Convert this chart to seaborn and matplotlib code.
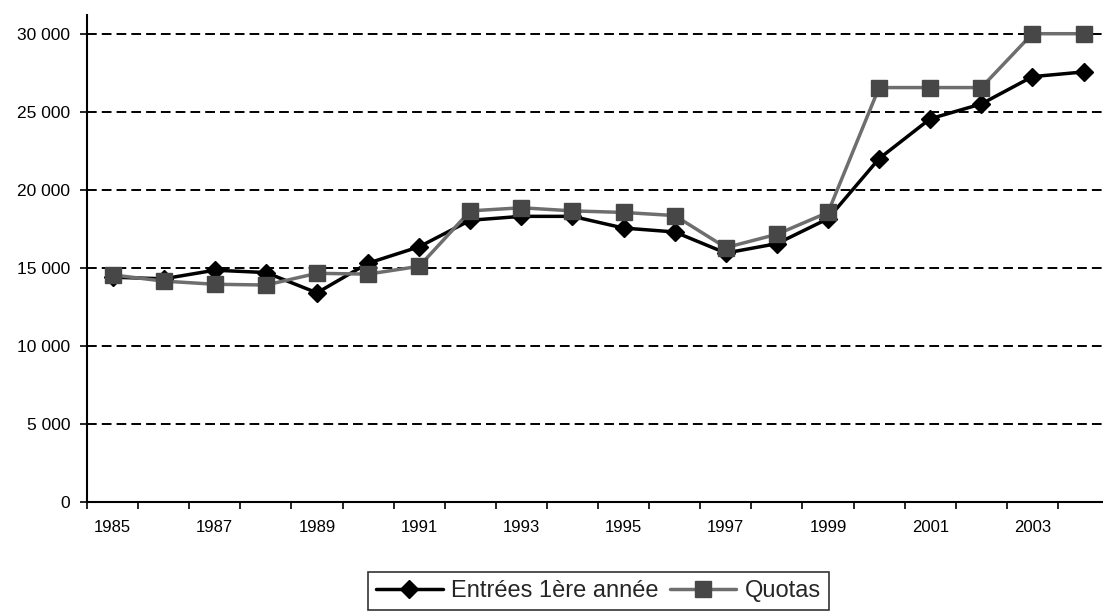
import pandas as pd
import seaborn as sns
import matplotlib.pyplot as plt
from matplotlib.ticker import FixedLocator, FixedFormatter

# Données
years = list(range(1985, 2005))
entrees = [14400, 14300, 14850, 14700, 13400, 15300, 16350, 18050, 18300, 18300,
           17550, 17300, 15950, 16550, 18150, 22000, 24550, 25500, 27250, 27550]
quotas = [14550, 14150, 13950, 13900, 14650, 14600, 15100, 18650, 18850, 18650,
          18550, 18350, 16300, 17150, 18550, 26550, 26550, 26550, 30000, 30000]
y_ticks = [0, 5000, 10000, 15000, 20000, 25000, 30000]

df = pd.DataFrame({"pos": range(len(years)),
                   "Entrées 1ère année": entrees,
                   "Quotas": quotas})

sns.set_theme(style="white")
plt.rcParams['font.family'] = ['Liberation Sans', 'DejaVu Sans']

fig = plt.figure(figsize=(11.03, 6.14), dpi=100)
ax = fig.add_axes([0.0789, 0.1824, 0.9266, 0.7932])

# gridlines en pointillés
for v in y_ticks[1:]:
    ax.axhline(v, color="black", lw=1.4, linestyle=(0, (5, 2.6)), zorder=0)

sns.lineplot(data=df, x="pos", y="Entrées 1ère année", ax=ax,
             color="black", lw=2.5, marker="D", markersize=9.5,
             markerfacecolor="black", markeredgecolor="black",
             markeredgewidth=1, label="Entrées 1ère année")
sns.lineplot(data=df, x="pos", y="Quotas", ax=ax,
             color="#6e6e6e", lw=2.5, marker="s", markersize=11.5,
             markerfacecolor="#474747", markeredgecolor="#474747",
             markeredgewidth=1, label="Quotas")

ax.set_xlim(-0.5, len(years) - 0.5)
ax.set_ylim(0, 31200)

# axes x : labels au centre, traits aux frontières des catégories
ax.xaxis.set_major_locator(FixedLocator(list(range(0, len(years), 2))))
ax.xaxis.set_major_formatter(FixedFormatter([str(y) for y in years[::2]]))
ax.xaxis.set_minor_locator(FixedLocator([i - 0.5 for i in range(len(years) + 1)]))
ax.tick_params(axis="x", which="major", length=0, pad=13, labelsize=12, colors="black")
ax.tick_params(axis="x", which="minor", length=5, width=1.2, color="black", direction="out", bottom=True)

ax.set_yticks(y_ticks)
ax.set_yticklabels([f"{v:,}".replace(",", " ") for v in y_ticks])
ax.tick_params(axis="y", length=5, width=1.2, color="black", direction="out",
               pad=7, labelsize=12.5, left=True, labelcolor="black")

for s in ["top", "right"]:
    ax.spines[s].set_visible(False)
for s in ["left", "bottom"]:
    ax.spines[s].set_color("black")
    ax.spines[s].set_linewidth(1.5)

ax.set_xlabel("")
ax.set_ylabel("")

leg = ax.legend(loc="upper center", bbox_to_anchor=(0.5426, 0.069),
                bbox_transform=fig.transFigure, ncol=2, fontsize=17,
                frameon=True, fancybox=False, edgecolor="black",
                handlelength=2.8, handletextpad=0.35, columnspacing=0.5,
                borderpad=0.35, borderaxespad=0)
leg.get_frame().set_linewidth(1.2)

fig.savefig("out.png", dpi=100)
